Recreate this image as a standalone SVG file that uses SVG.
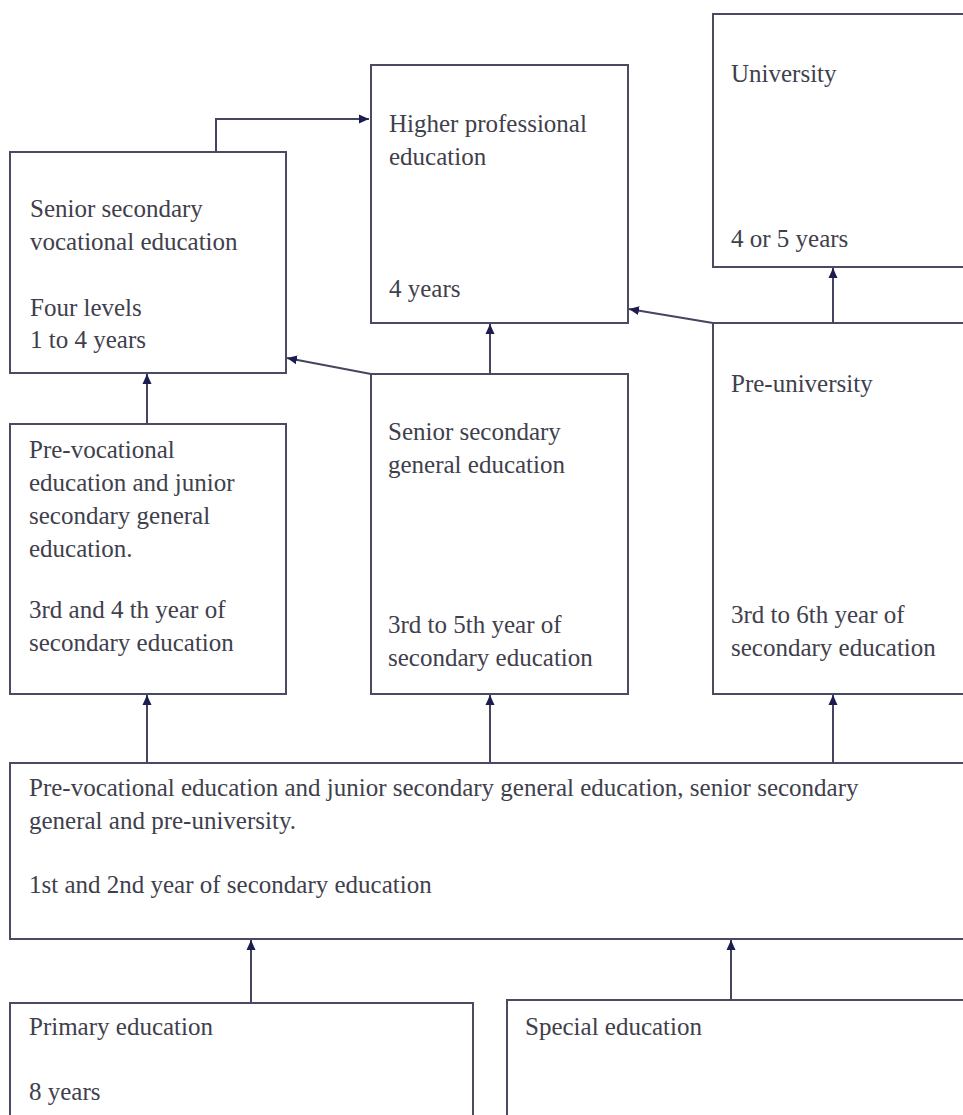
<svg xmlns="http://www.w3.org/2000/svg" width="963" height="1115" viewBox="0 0 963 1115">
<defs>
<marker id="ah" viewBox="0 0 10 10" refX="10" refY="5" markerWidth="10" markerHeight="10" markerUnits="userSpaceOnUse" orient="auto">
<path d="M0,0.5 L10,5 L0,9.5 Z" fill="#1c1c50"/>
</marker>
</defs>
<rect width="963" height="1115" fill="#ffffff"/>
<g id="nodes">
<g id="university">
<rect x="713" y="14" width="260" height="253" fill="#ffffff" stroke="#4a4a62" stroke-width="2"/>
<text font-family="Liberation Serif" font-size="25" fill="#40404c" x="731" y="82">University</text>
<text font-family="Liberation Serif" font-size="25" fill="#40404c" x="731" y="247">4 or 5 years</text>
</g>
<g id="higher-professional">
<rect x="371" y="65" width="257" height="258" fill="#ffffff" stroke="#4a4a62" stroke-width="2"/>
<text font-family="Liberation Serif" font-size="25" fill="#40404c" x="389" y="132">Higher professional</text>
<text font-family="Liberation Serif" font-size="25" fill="#40404c" x="389" y="165">education</text>
<text font-family="Liberation Serif" font-size="25" fill="#40404c" x="389" y="297">4 years</text>
</g>
<g id="senior-vocational">
<rect x="10" y="152" width="276" height="221" fill="#ffffff" stroke="#4a4a62" stroke-width="2"/>
<text font-family="Liberation Serif" font-size="25" fill="#40404c" x="30" y="217">Senior secondary</text>
<text font-family="Liberation Serif" font-size="25" fill="#40404c" x="30" y="250">vocational education</text>
<text font-family="Liberation Serif" font-size="25" fill="#40404c" x="30" y="316">Four levels</text>
<text font-family="Liberation Serif" font-size="25" fill="#40404c" x="30" y="348">1 to 4 years</text>
</g>
<g id="pre-vocational">
<rect x="10" y="424" width="276" height="270" fill="#ffffff" stroke="#4a4a62" stroke-width="2"/>
<text font-family="Liberation Serif" font-size="25" fill="#40404c" x="29" y="458">Pre-vocational</text>
<text font-family="Liberation Serif" font-size="25" fill="#40404c" x="29" y="491">education and junior</text>
<text font-family="Liberation Serif" font-size="25" fill="#40404c" x="29" y="524">secondary general</text>
<text font-family="Liberation Serif" font-size="25" fill="#40404c" x="29" y="557">education.</text>
<text font-family="Liberation Serif" font-size="25" fill="#40404c" x="29" y="618">3rd and 4 th year of</text>
<text font-family="Liberation Serif" font-size="25" fill="#40404c" x="29" y="651">secondary education</text>
</g>
<g id="senior-general">
<rect x="371" y="374" width="257" height="320" fill="#ffffff" stroke="#4a4a62" stroke-width="2"/>
<text font-family="Liberation Serif" font-size="25" fill="#40404c" x="388" y="440">Senior secondary</text>
<text font-family="Liberation Serif" font-size="25" fill="#40404c" x="388" y="473">general education</text>
<text font-family="Liberation Serif" font-size="25" fill="#40404c" x="388" y="633">3rd to 5th year of</text>
<text font-family="Liberation Serif" font-size="25" fill="#40404c" x="388" y="666">secondary education</text>
</g>
<g id="pre-university">
<rect x="713" y="323" width="260" height="371" fill="#ffffff" stroke="#4a4a62" stroke-width="2"/>
<text font-family="Liberation Serif" font-size="25" fill="#40404c" x="731" y="392">Pre-university</text>
<text font-family="Liberation Serif" font-size="25" fill="#40404c" x="731" y="623">3rd to 6th year of</text>
<text font-family="Liberation Serif" font-size="25" fill="#40404c" x="731" y="656">secondary education</text>
</g>
<g id="lower-secondary">
<rect x="10" y="763" width="963" height="176" fill="#ffffff" stroke="#4a4a62" stroke-width="2"/>
<text font-family="Liberation Serif" font-size="25" fill="#40404c" x="29" y="796">Pre-vocational education and junior secondary general education, senior secondary</text>
<text font-family="Liberation Serif" font-size="25" fill="#40404c" x="29" y="829">general and pre-university.</text>
<text font-family="Liberation Serif" font-size="25" fill="#40404c" x="29" y="893">1st and 2nd year of secondary education</text>
</g>
<g id="primary">
<rect x="10" y="1003" width="463" height="130" fill="#ffffff" stroke="#4a4a62" stroke-width="2"/>
<text font-family="Liberation Serif" font-size="25" fill="#40404c" x="29" y="1035">Primary education</text>
<text font-family="Liberation Serif" font-size="25" fill="#40404c" x="29" y="1100">8 years</text>
</g>
<g id="special">
<rect x="507" y="1000" width="466" height="133" fill="#ffffff" stroke="#4a4a62" stroke-width="2"/>
<text font-family="Liberation Serif" font-size="25" fill="#40404c" x="525" y="1035">Special education</text>
</g>
</g>
<g id="connectors" fill="none" stroke="#45455f" stroke-width="2">
<path d="M216,152 V119 H369" marker-end="url(#ah)"/>
<path d="M713,323 L629,309" marker-end="url(#ah)"/>
<path d="M371,374 L287,358" marker-end="url(#ah)"/>
<path d="M833,323 V268" marker-end="url(#ah)"/>
<path d="M490,374 V324" marker-end="url(#ah)"/>
<path d="M147,424 V374" marker-end="url(#ah)"/>
<path d="M147,763 V695" marker-end="url(#ah)"/>
<path d="M490,763 V695" marker-end="url(#ah)"/>
<path d="M833,763 V695" marker-end="url(#ah)"/>
<path d="M251,1003 V940" marker-end="url(#ah)"/>
<path d="M731,1000 V940" marker-end="url(#ah)"/>
</g>
</svg>
